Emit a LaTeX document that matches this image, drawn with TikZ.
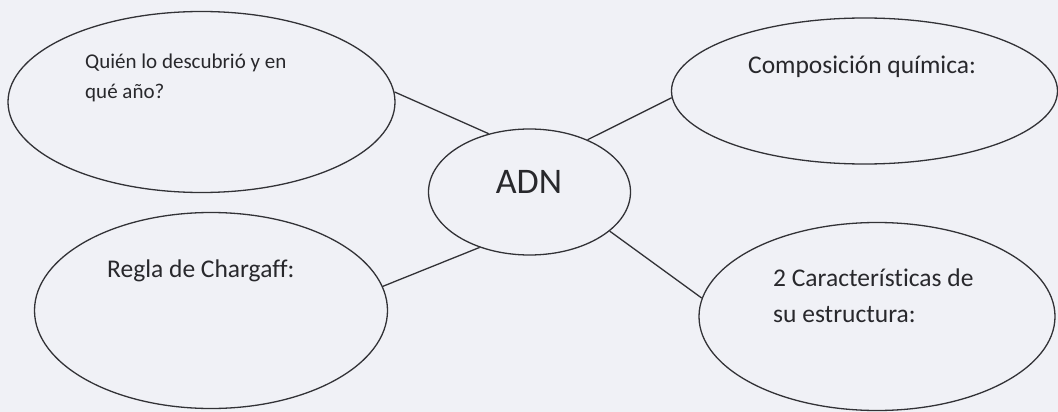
\documentclass[tikz,border=0pt]{standalone}
\usepackage{fontspec}
\setmainfont[Ligatures=NoCommon]{Carlito}
\usetikzlibrary{shapes.geometric}
\definecolor{paper}{RGB}{240,241,246}
\definecolor{ink}{RGB}{50,50,54}
\definecolor{txt}{RGB}{40,40,44}
\begin{document}
\begin{tikzpicture}[x=1pt,y=-1pt,
  bubble/.style={draw=ink,line width=1.3pt,ellipse,inner sep=0pt},
  link/.style={draw=ink,line width=1.3pt},
  lbl/.style={text=txt,inner sep=0pt,anchor=base west},
]
\fill[paper] (0,0) rectangle (1058,412);
\useasboundingbox (0,0) rectangle (1058,412);
% bubbles
\node[bubble,minimum width=387pt,minimum height=181pt] (who) at (201.5,102) {};
\node[bubble,minimum width=386pt,minimum height=146pt] (comp) at (864.5,91) {};
\node[bubble,minimum width=353pt,minimum height=196pt] (charg) at (211,310.5) {};
\node[bubble,minimum width=356pt,minimum height=188pt] (estr) at (877,316.5) {};
\node[bubble,minimum width=202pt,minimum height=126pt] (adn) at (529.5,192) {};
% texts
\node[lbl,font=\fontsize{21}{25}\selectfont] (q1) at (85,69) {Quién lo descubrió y en};
\node[lbl,font=\fontsize{21}{25}\selectfont] (q2) at (85,99) {qué año?};
\node[lbl,font=\fontsize{25.5}{30}\selectfont] (c1) at (748,74) {Composición química:};
\node[lbl,font=\fontsize{25.5}{30}\selectfont] (r1) at (107,277) {Regla de Chargaff:};
\node[lbl,font=\fontsize{25.5}{30}\selectfont] (e1) at (773,286) {2 Características de};
\node[lbl,font=\fontsize{25.5}{30}\selectfont] (e2) at (773,322) {su estructura:};
\node[text=txt,inner sep=0pt,anchor=base,font=\fontsize{36}{40}\selectfont] (t) at (529,193) {ADN};
% connectors
\draw[link] (who.3) -- (adn.125);
\draw[link] (adn.42) -- (comp.182);
\draw[link] (charg.8) -- (adn.228);
\draw[link] (adn.334) -- (estr.174);
\end{tikzpicture}
\end{document}
